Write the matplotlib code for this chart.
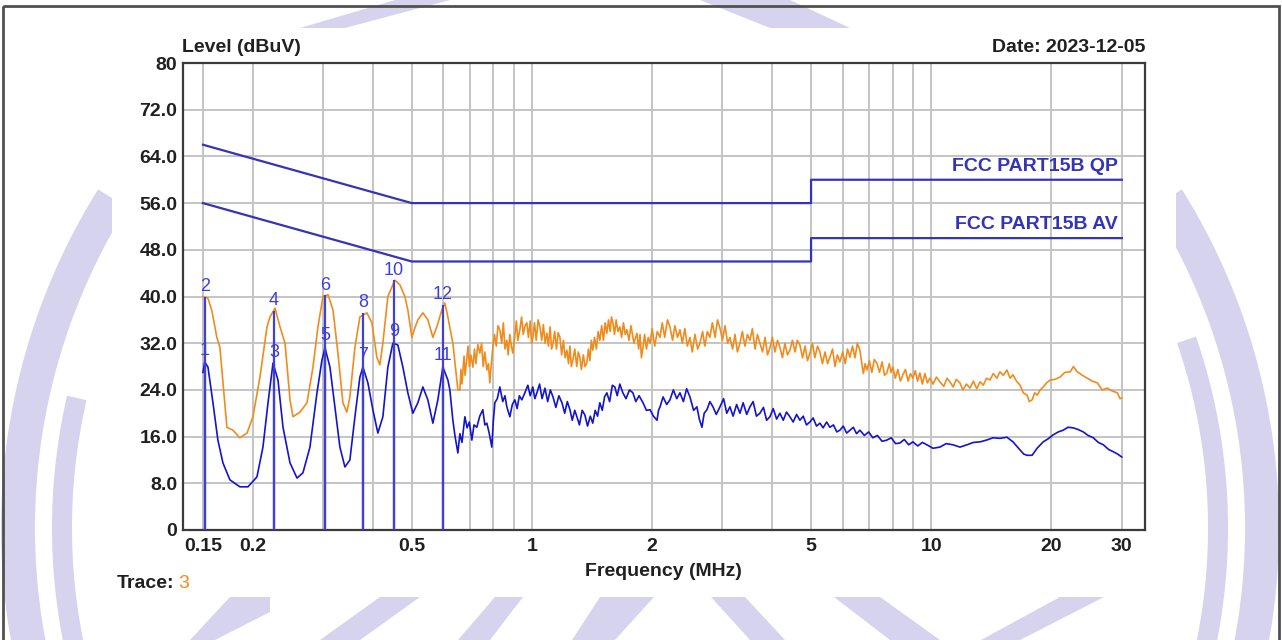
import numpy as np
import matplotlib
matplotlib.use('Agg')
import matplotlib.pyplot as plt
from matplotlib import font_manager
from matplotlib.patches import Polygon, Rectangle

# peak trace (orange), MHz / dBuV
peakFreq = [0.150, 0.1544, 0.158, 0.1625, 0.1654, 0.1722, 0.1783, 0.1855, 0.1934, 0.2001,
            0.2084, 0.2170, 0.2208, 0.2273, 0.2339, 0.2408, 0.2478, 0.2521, 0.2625, 0.2733,
            0.2829, 0.2911, 0.2997, 0.3085, 0.3175, 0.3267, 0.3362, 0.3440, 0.3500, 0.3603,
            0.3708, 0.3861, 0.3973, 0.4089, 0.4160, 0.4233, 0.4357, 0.4536, 0.4669, 0.4806,
            0.4889, 0.5003, 0.5090, 0.5180, 0.5331, 0.5487, 0.5648, 0.5779, 0.5948, 0.6052,
            0.6158, 0.6338, 0.6524, 0.660, 0.664, 0.668, 0.6715, 0.676, 0.680, 0.6872,
            0.692, 0.697, 0.703, 0.7113, 0.718, 0.724, 0.732, 0.7405, 0.748, 0.755,
            0.762, 0.7710, 0.778, 0.7845, 0.790, 0.7981, 0.806, 0.814, 0.822, 0.8310,
            0.840, 0.848, 0.856, 0.8652, 0.872, 0.880, 0.888, 0.8958, 0.905, 0.914,
            0.922, 0.9326, 0.942, 0.951, 0.961, 0.9710, 0.980, 0.990, 0.998, 1.005,
            1.015, 1.025, 1.036, 1.047, 1.058, 1.068, 1.079, 1.090, 1.100, 1.110,
            1.120, 1.129, 1.140, 1.152, 1.163, 1.175, 1.187, 1.199, 1.211, 1.223,
            1.235, 1.245, 1.255, 1.266, 1.280, 1.295, 1.306, 1.318, 1.330, 1.345,
            1.358, 1.372, 1.385, 1.397, 1.408, 1.420, 1.435, 1.450, 1.465, 1.479,
            1.495, 1.510, 1.525, 1.540, 1.555, 1.570, 1.582, 1.595, 1.610, 1.625,
            1.642, 1.660, 1.677, 1.695, 1.712, 1.729, 1.750, 1.770, 1.800, 1.832,
            1.850, 1.865, 1.880, 1.897, 1.915, 1.935, 1.955, 1.976, 2.000, 2.030,
            2.060, 2.093, 2.120, 2.150, 2.185, 2.216, 2.250, 2.280, 2.315, 2.348,
            2.380, 2.415, 2.450, 2.487, 2.520, 2.560, 2.600, 2.635, 2.675, 2.710,
            2.750, 2.791, 2.830, 2.875, 2.915, 2.957, 3.000, 3.045, 3.090, 3.132,
            3.180, 3.225, 3.270, 3.318, 3.365, 3.415, 3.465, 3.515, 3.565, 3.620,
            3.670, 3.723, 3.780, 3.835, 3.890, 3.944, 4.000, 4.060, 4.120, 4.178,
            4.240, 4.300, 4.365, 4.426, 4.490, 4.560, 4.620, 4.689, 4.760, 4.830,
            4.900, 4.967, 5.040, 5.110, 5.190, 5.262, 5.340, 5.420, 5.500, 5.574,
            5.660, 5.740, 5.820, 5.905, 6.000, 6.090, 6.170, 6.256, 6.350, 6.440,
            6.530, 6.627, 6.700, 6.760, 6.830, 6.899, 7.000, 7.100, 7.200, 7.307,
            7.420, 7.530, 7.640, 7.741, 7.850, 7.930, 8.013, 8.130, 8.250, 8.370,
            8.490, 8.620, 8.750, 8.870, 8.994, 9.120, 9.240, 9.365, 9.500, 9.640,
            9.780, 9.921, 10.10, 10.30, 10.51, 10.75, 10.95, 11.13, 11.35, 11.55,
            11.80, 12.00, 12.25, 12.50, 12.75, 13.00, 13.25, 13.50, 13.75, 14.03,
            14.30, 14.60, 14.86, 15.15, 15.47, 15.75, 16.02, 16.35, 16.69, 17.00,
            17.38, 17.60, 17.89, 18.15, 18.41, 18.75, 19.07, 19.45, 19.85, 20.40,
            21.03, 21.60, 22.29, 22.70, 23.21, 23.90, 24.59, 25.30, 26.06, 26.80,
            27.60, 28.40, 29.25, 29.70, 30.00]
peakLevel = [40.0, 39.7, 37.5, 33.0, 31.3, 17.6, 17.1, 15.8, 16.6, 19.4,
             26.2, 34.8, 36.5, 38.0, 34.8, 32.0, 22.3, 19.4, 20.2, 21.8,
             27.9, 34.8, 40.0, 40.3, 37.7, 30.3, 21.8, 20.2, 22.8, 31.3,
             36.5, 37.2, 35.5, 29.6, 28.3, 32.0, 40.0, 42.8, 42.0, 40.0,
             37.7, 33.0, 34.6, 36.0, 37.2, 36.0, 33.0, 34.8, 37.7, 38.9,
             36.5, 32.0, 24.0, 24.0, 27.5, 25.0, 27.0, 29.8, 26.5, 29.6,
             31.5, 28.0, 30.0, 27.9, 31.0, 28.5, 31.8, 30.3, 32.0, 28.0,
             30.5, 27.4, 28.5, 25.2, 28.0, 31.3, 33.5, 31.5, 35.0, 34.3,
             32.0, 35.5, 31.0, 32.5, 30.0, 33.5, 31.5, 30.3, 33.0, 35.8,
             32.5, 34.3, 36.5, 33.5, 35.0, 35.5, 33.0, 35.8, 32.0, 33.0,
             35.5, 32.5, 36.0, 34.8, 32.5, 35.2, 32.0, 33.7, 31.5, 34.8,
             31.0, 32.0, 34.0, 31.0, 33.8, 33.0, 30.0, 32.5, 29.5, 30.8,
             28.5, 31.5, 28.0, 29.1, 31.0, 28.0, 30.5, 29.6, 27.5, 30.0,
             28.0, 28.6, 31.0, 29.0, 32.5, 30.8, 33.0, 31.0, 34.0, 32.5,
             35.0, 32.5, 35.5, 33.7, 36.0, 34.0, 36.5, 35.5, 33.5, 36.0,
             34.0, 34.8, 33.0, 35.5, 33.5, 34.3, 32.5, 35.0, 32.0, 33.7,
             31.0, 33.5, 29.5, 31.3, 33.5, 31.0, 33.0, 32.0, 34.5, 31.5,
             34.0, 33.0, 35.5, 33.0, 36.0, 34.8, 32.5, 35.0, 33.0, 34.3,
             32.0, 34.5, 31.5, 33.0, 30.5, 33.5, 31.0, 32.0, 34.0, 31.5,
             34.0, 33.0, 35.5, 33.0, 36.0, 34.6, 32.5, 35.0, 32.0, 33.0,
             31.0, 33.5, 30.5, 32.0, 34.0, 31.5, 33.5, 32.5, 34.5, 31.0,
             33.5, 32.0, 30.5, 33.0, 30.0, 31.2, 33.0, 30.5, 32.5, 31.3,
             29.5, 32.0, 30.0, 30.8, 32.5, 30.5, 32.5, 31.7, 29.5, 31.5,
             29.0, 30.3, 32.0, 29.5, 31.5, 30.5, 28.5, 30.5, 28.5, 29.6,
             31.0, 28.0, 30.0, 28.8, 30.5, 28.5, 31.0, 29.6, 31.5, 29.5,
             32.0, 30.8, 28.5, 26.8, 28.5, 27.4, 29.0, 27.0, 29.2, 28.6,
             27.0, 28.8, 26.5, 26.9, 28.5, 27.0, 27.9, 26.0, 27.5, 25.5,
             26.6, 27.5, 25.5, 26.8, 26.0, 27.3, 25.5, 26.9, 25.0, 26.8,
             25.2, 26.0, 25.0, 26.2, 25.4, 24.6, 26.0, 25.4, 24.5, 25.8,
             25.2, 24.0, 25.0, 24.3, 25.5, 24.2, 25.4, 24.8, 26.0, 25.7,
             26.8, 26.0, 27.1, 26.5, 27.4, 26.0, 26.6, 25.5, 24.8, 23.5,
             23.1, 22.0, 22.3, 23.5, 23.1, 24.0, 24.5, 25.2, 25.7, 25.8,
             26.2, 27.0, 27.1, 28.0, 27.1, 26.5, 26.0, 25.5, 25.2, 24.0,
             24.3, 23.8, 23.5, 22.5, 22.6]

# average trace (blue)
avgFreq = [0.150, 0.1515, 0.1544, 0.1589, 0.1635, 0.1683, 0.1752, 0.1855, 0.1945, 0.2048,
           0.2120, 0.2183, 0.2247, 0.2312, 0.2380, 0.2478, 0.2580, 0.2670, 0.2780, 0.2895,
           0.2979, 0.3032, 0.3120, 0.3211, 0.3304, 0.3401, 0.3500, 0.3603, 0.3708, 0.3773,
           0.3883, 0.3996, 0.4113, 0.4233, 0.4357, 0.4484, 0.4615, 0.4751, 0.4889, 0.5032,
           0.5180, 0.5331, 0.5487, 0.5648, 0.5813, 0.5983, 0.6158, 0.6229, 0.6338, 0.642,
           0.6524, 0.660, 0.668, 0.6793, 0.688, 0.697, 0.7072, 0.716, 0.7278, 0.740,
           0.7534, 0.762, 0.7710, 0.782, 0.7935, 0.800, 0.8074, 0.819, 0.8310, 0.845,
           0.856, 0.8652, 0.8803, 0.893, 0.9062, 0.918, 0.930, 0.9434, 0.960, 0.9766,
           0.990, 1.005, 1.017, 1.029, 1.045, 1.060, 1.078, 1.095, 1.112, 1.129,
           1.148, 1.168, 1.189, 1.208, 1.226, 1.245, 1.262, 1.280, 1.296, 1.315,
           1.336, 1.357, 1.378, 1.400, 1.420, 1.440, 1.460, 1.479, 1.500, 1.520,
           1.540, 1.565, 1.590, 1.613, 1.635, 1.660, 1.689, 1.720, 1.755, 1.790,
           1.820, 1.855, 1.897, 1.935, 1.976, 2.015, 2.057, 2.075, 2.093, 2.130,
           2.175, 2.216, 2.260, 2.305, 2.348, 2.395, 2.440, 2.487, 2.540, 2.589,
           2.625, 2.665, 2.700, 2.743, 2.790, 2.840, 2.895, 2.957, 3.020, 3.075,
           3.132, 3.190, 3.255, 3.318, 3.380, 3.450, 3.515, 3.580, 3.650, 3.723,
           3.800, 3.870, 3.944, 4.020, 4.100, 4.178, 4.260, 4.340, 4.426, 4.510,
           4.600, 4.689, 4.780, 4.870, 4.967, 5.060, 5.160, 5.262, 5.360, 5.470,
           5.574, 5.690, 5.800, 5.905, 6.020, 6.140, 6.256, 6.380, 6.500, 6.627,
           6.800, 6.970, 7.141, 7.330, 7.530, 7.741, 7.940, 8.140, 8.344, 8.560,
           8.780, 8.994, 9.250, 9.500, 9.751, 10.10, 10.51, 10.90, 11.33, 11.80,
           12.29, 12.75, 13.25, 13.75, 14.28, 14.86, 15.47, 16.02, 16.69, 17.05,
           17.38, 17.89, 18.41, 19.07, 19.60, 20.20, 20.80, 21.40, 22.00, 22.68,
           23.35, 24.03, 24.70, 25.46, 26.20, 26.97, 27.80, 28.58, 29.30, 30.00]
avgLevel = [27.0, 28.8, 27.9, 21.8, 15.4, 11.5, 8.6, 7.4, 7.4, 9.1,
            14.2, 21.8, 28.6, 25.7, 17.6, 11.5, 8.9, 9.8, 14.2, 23.5,
            29.1, 31.2, 27.9, 21.1, 14.2, 10.8, 12.0, 19.4, 26.2, 27.9,
            25.2, 20.6, 16.6, 19.4, 27.9, 32.0, 31.7, 27.9, 23.5, 20.0,
            21.8, 24.5, 22.3, 18.3, 22.3, 27.9, 25.7, 24.0, 18.8, 16.0,
            13.2, 16.5, 15.0, 19.4, 17.5, 18.5, 15.4, 18.0, 17.6, 19.5,
            20.6, 18.0, 18.3, 16.5, 14.2, 18.5, 21.8, 22.5, 24.5, 22.0,
            23.0, 21.1, 19.4, 21.5, 22.3, 20.8, 23.0, 22.3, 23.5, 24.8,
            23.0, 24.5, 22.5, 23.5, 25.0, 22.5, 24.3, 22.0, 24.0, 22.8,
            21.0, 23.0, 21.8, 20.0, 22.0, 20.6, 18.8, 20.5, 19.4, 18.0,
            20.5, 19.7, 17.8, 19.5, 18.3, 20.5, 19.5, 21.8, 20.5, 22.8,
            23.5, 22.0, 24.8, 24.5, 23.0, 25.0, 23.5, 22.5, 24.0, 23.5,
            22.0, 23.0, 21.8, 20.5, 20.6, 19.5, 18.8, 20.5, 21.1, 22.8,
            21.5, 22.3, 24.0, 22.5, 23.5, 22.0, 24.2, 22.8, 20.5, 21.1,
            19.0, 17.6, 20.0, 20.6, 22.0, 21.1, 19.8, 21.1, 22.5, 20.0,
            21.1, 19.5, 21.5, 20.0, 21.8, 19.8, 21.1, 22.0, 19.5, 20.0,
            21.0, 18.8, 19.4, 20.8, 19.0, 20.0, 18.8, 20.2, 19.4, 18.5,
            19.8, 18.8, 19.5, 18.0, 18.5, 19.2, 17.8, 18.3, 17.5, 18.5,
            17.6, 18.0, 16.8, 17.1, 17.8, 16.6, 17.1, 17.6, 16.5, 17.1,
            16.2, 16.8, 15.8, 16.2, 15.2, 15.4, 15.8, 14.8, 14.9, 15.5,
            14.6, 15.1, 14.4, 15.0, 14.6, 14.0, 14.2, 14.8, 14.6, 14.2,
            14.6, 15.0, 15.1, 15.4, 15.8, 15.7, 15.9, 15.1, 13.7, 13.0,
            12.8, 12.8, 14.0, 15.1, 15.6, 16.3, 16.8, 17.1, 17.6, 17.5,
            17.2, 16.8, 16.2, 15.8, 15.0, 14.6, 13.8, 13.4, 13.0, 12.5]

# FCC part 15B limit lines
qpFreq = [0.15, 0.5, 5, 5, 30]
qpLevel = [66, 56, 56, 60, 60]
avFreq = [0.15, 0.5, 5, 5, 30]
avLevel = [56, 46, 46, 50, 50]

markerNo = [1, 2, 3, 4, 5, 6, 7, 8, 9, 10, 11, 12]
markerFreq = [0.1515, 0.1515, 0.226, 0.226, 0.303, 0.303, 0.377, 0.377, 0.451, 0.451, 0.598, 0.598]
markerLevel = [28.8, 40.0, 28.4, 37.6, 31.4, 40.2, 28.0, 37.2, 32.0, 42.8, 28.0, 38.6]

xTicks = [0.15, 0.2, 0.5, 1, 2, 5, 10, 20, 30]
xTickLabels = ['0.15', '0.2', '0.5', '1', '2', '5', '10', '20', '30']
xGrid = [0.15, 0.2, 0.3, 0.4, 0.5, 0.6, 0.7, 0.8, 0.9, 1, 2, 3, 4, 5, 6, 7, 8, 9, 10, 20, 30]
yTicks = [0, 8, 16, 24, 32, 40, 48, 56, 64, 72, 80]
yTickLabels = ['0', '8.0', '16.0', '24.0', '32.0', '40.0', '48.0', '56.0', '64.0', '72.0', '80']

W, H = 1282, 640
LAVENDER = '#d6d3ee'
ORANGE = '#f08c1e'
TRACE_BLUE = '#1414cc'
LIMIT_BLUE = '#3434b8'
MARK_BLUE = '#4040d8'

names = set(f.name for f in font_manager.fontManager.ttflist)
FONT = 'Liberation Sans' if 'Liberation Sans' in names else 'DejaVu Sans'
plt.rcParams['font.family'] = FONT


def ringPoly(cx, cy, r, w, a0, a1):
    # band of a circle in pixel coords (y down), angles in degrees
    t = np.radians(np.linspace(a0, a1, 200))
    outer = np.column_stack([cx + (r + w / 2) * np.cos(t), cy - (r + w / 2) * np.sin(t)])
    inner = np.column_stack([cx + (r - w / 2) * np.cos(t), cy - (r - w / 2) * np.sin(t)])
    return np.vstack([outer, inner[::-1]])


def drawBackground(fig):
    bg = fig.add_axes([0, 0, 1, 1], zorder=0)
    bg.set_xlim(0, W)
    bg.set_ylim(H, 0)
    bg.axis('off')

    # watermark arcs behind the chart panel
    arcs = [(622, 34, 148, 200), (622, 34, -20, 32), (578, 20, 167, 200), (578, 20, -20, 19)]
    for r, w, a0, a1 in arcs:
        bg.add_patch(Polygon(ringPoly(640, 528, r, w, a0, a1), closed=True, color=LAVENDER, lw=0))
    blobs = [
        [(300, 28), (345, 28), (450, 0), (395, 0)],
        [(700, 0), (790, 0), (850, 28), (770, 28)],
        [(150, 640), (190, 640), (230, 597), (270, 597), (270, 612), (215, 640)],
        [(320, 640), (360, 640), (420, 597), (380, 597)],
        [(458, 640), (490, 640), (523, 597), (495, 597)],
        [(572, 640), (615, 640), (654, 597), (600, 597)],
        [(711, 597), (745, 597), (785, 640), (750, 640)],
        [(834, 597), (880, 597), (940, 640), (890, 640)],
        [(981, 640), (1020, 640), (1104, 597), (1060, 597)],
    ]
    for pts in blobs:
        bg.add_patch(Polygon(pts, closed=True, color=LAVENDER, lw=0))

    # white chart panel and outer frame
    bg.add_patch(Rectangle((112, 28), 1176 - 112, 597 - 28, color='white', lw=0))
    bg.add_patch(Rectangle((3, 6), 1276, 700, fill=False, edgecolor='#505050', lw=2))
    return bg


def plotChart():
    fig = plt.figure(figsize=(W / 100, H / 100), dpi=100)
    bg = drawBackground(fig)

    ax = fig.add_axes([183 / W, 1 - 530 / H, (1145 - 183) / W, (530 - 63) / H], zorder=2)
    ax.patch.set_alpha(0)
    ax.set_xscale('log')
    ax.set_xlim(0.1337, 34.3)
    ax.set_ylim(0, 80)

    for f in xGrid:
        ax.axvline(f, color='#c4c4c4', lw=1.4, zorder=1)
    for y in yTicks[1:-1]:
        ax.axhline(y, color='#c4c4c4', lw=1.4, zorder=1)

    ax.plot(qpFreq, qpLevel, color=LIMIT_BLUE, lw=1.6, zorder=3)
    ax.plot(avFreq, avLevel, color=LIMIT_BLUE, lw=1.6, zorder=3)
    ax.text(29.3, 60.8, 'FCC PART15B QP', ha='right', va='bottom', color=LIMIT_BLUE,
            fontsize=14, fontweight='bold')
    ax.text(29.3, 50.8, 'FCC PART15B AV', ha='right', va='bottom', color=LIMIT_BLUE,
            fontsize=14, fontweight='bold')

    ax.plot(peakFreq, peakLevel, color=ORANGE, lw=1.2, zorder=4)
    ax.plot(avgFreq, avgLevel, color=TRACE_BLUE, lw=1.2, zorder=5)

    for n, f, lvl in zip(markerNo, markerFreq, markerLevel):
        ax.vlines(f, 0, lvl, color=MARK_BLUE, lw=1.6, zorder=6)
        ax.annotate(str(n), (f, lvl), xytext=(0, 1 if n % 2 == 0 else 2),
                    textcoords='offset points', ha='center', va='bottom',
                    color=MARK_BLUE, fontsize=13, zorder=8)

    ax.set_xticks(xTicks)
    ax.set_xticklabels(xTickLabels)
    ax.xaxis.set_minor_locator(matplotlib.ticker.NullLocator())
    ax.set_yticks(yTicks)
    ax.set_yticklabels(yTickLabels)
    ax.tick_params(axis='both', length=0, labelsize=14, colors='#202020')
    ax.tick_params(axis='x', pad=6)
    ax.tick_params(axis='y', pad=4)
    for lab in ax.get_xticklabels() + ax.get_yticklabels():
        lab.set_fontweight('bold')
    for s in ax.spines.values():
        s.set_color('#3a3a3a')
        s.set_linewidth(1.6)

    bg.text(182, 48, 'Level (dBuV)', ha='left', va='center', fontsize=14,
            fontweight='bold', color='#202020')
    bg.text(1145, 47, 'Date: 2023-12-05', ha='right', va='center', fontsize=14,
            fontweight='bold', color='#202020')
    bg.text(663, 572, 'Frequency (MHz)', ha='center', va='center', fontsize=14,
            fontweight='bold', color='#202020')
    bg.text(117, 584, 'Trace:', ha='left', va='center', fontsize=14,
            fontweight='bold', color='#202020')
    bg.text(178, 584, '3', ha='left', va='center', fontsize=14, color=ORANGE)

    fig.savefig('out.png', dpi=100)


plotChart()
